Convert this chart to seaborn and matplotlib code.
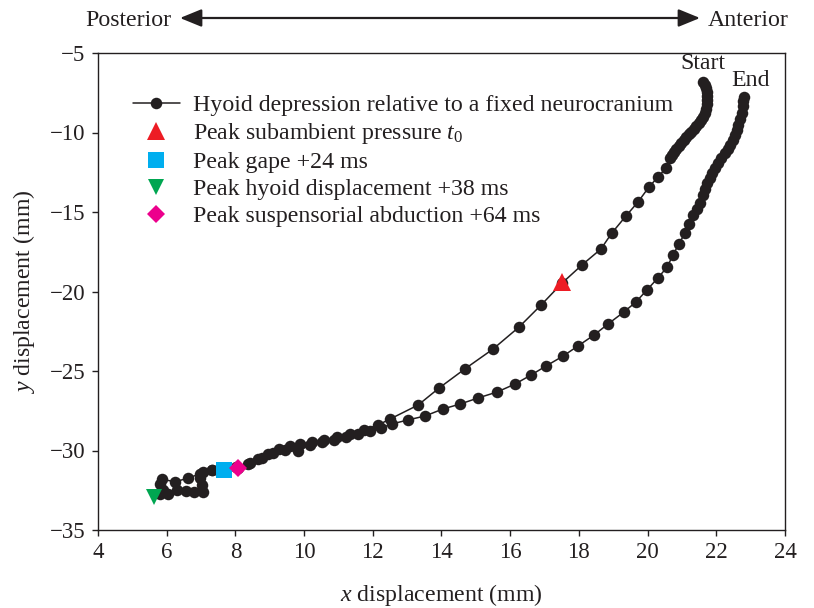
import numpy as np
import pandas as pd
import matplotlib
matplotlib.use("Agg")
import matplotlib.pyplot as plt
import seaborn as sns

# Hyoid trajectory (outbound then return), mm
traj_x = [21.61, 21.67, 21.70, 21.73, 21.73, 21.73, 21.73, 21.70, 21.67, 21.61,
          21.55, 21.50, 21.41, 21.35, 21.26, 21.21, 21.12, 21.06, 20.97, 20.91,
          20.83, 20.77, 20.71, 20.65, 20.54, 20.30, 20.04, 19.72, 19.37, 18.96,
          18.64, 18.09, 17.51, 16.90, 16.26, 15.50, 14.68, 13.93, 13.32, 12.50,
          12.15, 11.74, 11.34, 10.96, 10.58, 10.23, 9.88, 9.59, 9.27, 8.95,
          8.66, 8.37, 8.02, 7.70, 7.32, 6.97, 6.62, 6.24, 5.86, 5.80,
          5.89, 5.80,
          6.04, 6.30, 6.56, 6.79, 7.06, 7.03, 6.97, 7.06, 7.32, 8.08,
          8.43, 8.77, 9.09, 9.44, 9.82, 10.17, 10.52, 10.87, 11.22, 11.57,
          11.92, 12.24, 12.56, 13.02, 13.52, 14.04, 14.54, 15.06, 15.62, 16.14,
          16.61, 17.04, 17.54, 17.97, 18.44, 18.85, 19.31, 19.66, 19.98, 20.30,
          20.57, 20.74, 20.91, 21.09, 21.21, 21.32, 21.44, 21.53, 21.61, 21.67,
          21.73, 21.82, 21.87, 21.96, 22.05, 22.14, 22.25, 22.34, 22.40, 22.49,
          22.54, 22.60, 22.63, 22.69, 22.75, 22.78, 22.78, 22.81]
traj_y = [-6.82, -7.01, -7.20, -7.45, -7.70, -7.96, -8.21, -8.52, -8.77, -9.03,
          -9.21, -9.40, -9.59, -9.78, -9.97, -10.09, -10.28, -10.47, -10.66, -10.85,
          -11.04, -11.23, -11.42, -11.60, -12.23, -12.80, -13.43, -14.37, -15.25, -16.32,
          -17.33, -18.33, -19.47, -20.85, -22.23, -23.62, -24.87, -26.07, -27.14, -28.02,
          -28.40, -28.71, -28.96, -29.15, -29.34, -29.47, -29.59, -29.72, -29.91, -30.22,
          -30.53, -30.85, -31.04, -31.23, -31.23, -31.48, -31.73, -31.98, -31.79, -32.11,
          -32.48, -32.74,
          -32.74, -32.48, -32.55, -32.61, -32.61, -32.17, -31.73, -31.35, -31.23, -31.10,
          -30.79, -30.47, -30.16, -29.97, -30.03, -29.65, -29.47, -29.34, -29.15, -28.96,
          -28.77, -28.58, -28.33, -28.08, -27.83, -27.39, -27.08, -26.70, -26.32, -25.82,
          -25.25, -24.69, -24.06, -23.43, -22.74, -22.04, -21.29, -20.66, -19.91, -19.15,
          -18.46, -17.70, -17.01, -16.32, -15.75, -15.19, -14.81, -14.43, -13.93, -13.55,
          -13.18, -12.86, -12.55, -12.23, -11.92, -11.60, -11.29, -11.04, -10.79, -10.47,
          -10.16, -9.84, -9.53, -9.15, -8.77, -8.33, -8.02, -7.77]

# Events
event_labels = ["Peak subambient pressure $\\it{t}_0$",
                "Peak gape +24 ms",
                "Peak hyoid displacement +38 ms",
                "Peak suspensorial abduction +64 ms"]
event_x = [17.51, 7.68, 5.62, 8.08]
event_y = [-19.40, -31.20, -32.92, -31.10]
event_colors = ["#ED1C24", "#00AEEF", "#00A651", "#EC008C"]
event_markers = ["^", "s", "v", "D"]
event_sizes = [13, 11, 11, 9]

x_ticks = [4, 6, 8, 10, 12, 14, 16, 18, 20, 22, 24]
y_ticks = [-35, -30, -25, -20, -15, -10, -5]

sns.set_theme(style="ticks")
plt.rcParams["font.family"] = ["Liberation Serif", "DejaVu Serif"]
plt.rcParams["mathtext.fontset"] = "custom"
plt.rcParams["mathtext.rm"] = "Liberation Serif"
plt.rcParams["mathtext.it"] = "Liberation Serif:italic"

FS = 17.2
TFS = 16.5
INK = "#231F20"
fig = plt.figure(figsize=(8.14, 6.08), dpi=100)
ax = fig.add_axes([98 / 814, 1 - 530 / 608, 687 / 814, 477 / 608])

df = pd.DataFrame({"x": traj_x, "y": traj_y})
sns.lineplot(data=df, x="x", y="y", sort=False, estimator=None, ax=ax,
             color=INK, linewidth=1.1, marker="o", markersize=8.3,
             markeredgewidth=0, markerfacecolor=INK,
             label="Hyoid depression relative to a fixed neurocranium")

for lab, ex, ey, c, m, s in zip(event_labels, event_x, event_y, event_colors,
                                event_markers, event_sizes):
    ax.plot([ex], [ey], linestyle="none", marker=m, markersize=s, color=c,
            markeredgewidth=0, label=lab, zorder=5)

ax.set_xlim(4, 24)
ax.set_ylim(-35, -5)
ax.set_xticks(x_ticks)
ax.set_yticks(y_ticks)
ax.set_yticklabels([f"\u2212{abs(v)}" for v in y_ticks])
ax.tick_params(direction="out", length=4, width=1.0, labelsize=TFS, color=INK,
               labelcolor=INK, pad=5)
for sp in ax.spines.values():
    sp.set_visible(True)
    sp.set_linewidth(1.0)
    sp.set_color(INK)

ax.set_xlabel("$\\it{x}$ displacement (mm)", fontsize=FS, color=INK, labelpad=13)
ax.set_ylabel("$\\it{y}$ displacement (mm)", fontsize=FS, color=INK, labelpad=9)

leg = ax.legend(loc="upper left", bbox_to_anchor=(0.051, 0.913), frameon=False,
                fontsize=FS, handlelength=1.95, handletextpad=0.55,
                labelspacing=0.22, borderaxespad=0, borderpad=0)
for t in leg.get_texts():
    t.set_color(INK)

ax.text(21.6, -6.35, "Start", fontsize=FS, ha="center", va="bottom", color=INK)
ax.text(23.0, -7.4, "End", fontsize=FS, ha="center", va="bottom", color=INK)

# Posterior / Anterior arrow
fig.text(171 / 814, 1 - 20 / 608, "Posterior", fontsize=FS, ha="right", va="center",
         color=INK)
fig.text(708 / 814, 1 - 20 / 608, "Anterior", fontsize=FS, ha="left", va="center",
         color=INK)
ax.annotate("", xy=(700 / 814, 1 - 18 / 608), xytext=(180 / 814, 1 - 18 / 608),
            xycoords="figure fraction", textcoords="figure fraction",
            arrowprops=dict(arrowstyle="<|-|>,head_length=1.1,head_width=0.45",
                            color=INK, lw=1.6, shrinkA=0, shrinkB=0),
            annotation_clip=False)

fig.savefig("out.png", dpi=100)
